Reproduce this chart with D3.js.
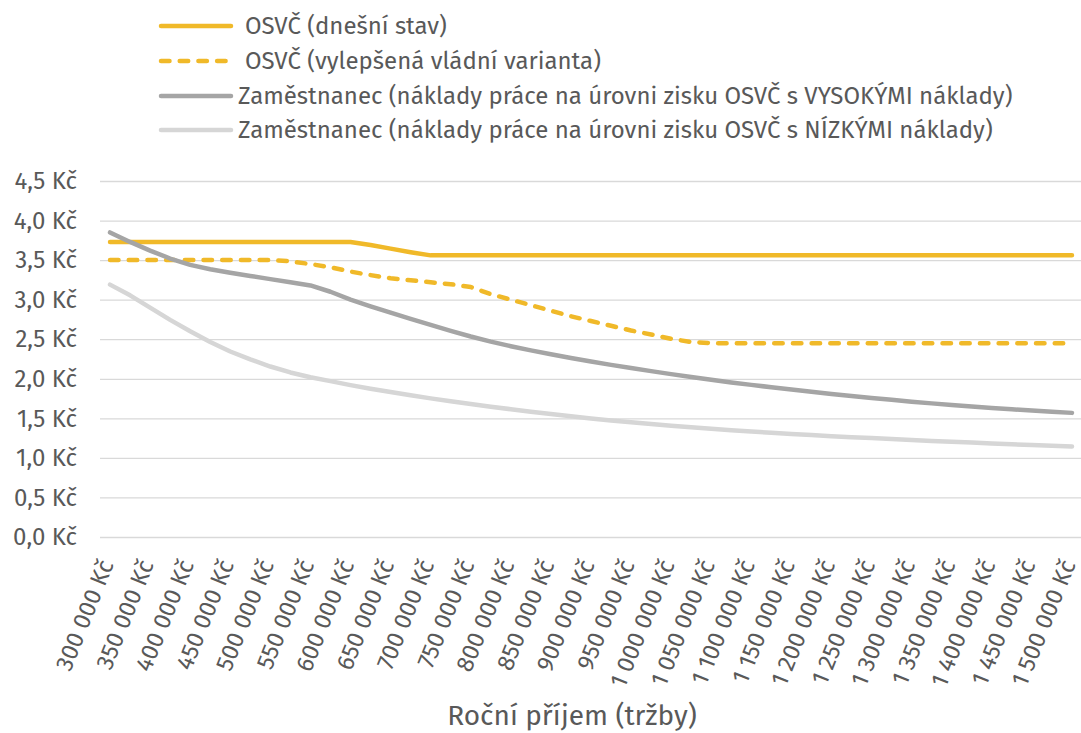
<!DOCTYPE html>
<html>
<head>
<meta charset="utf-8">
<script src="https://cdn.jsdelivr.net/npm/d3@7"></script>
<style>
  body { margin: 0; background: #fff; }
  text { font-family: "Fira Sans", "Open Sans", sans-serif; fill: #595959; }
</style>
</head>
<body>
<div id="chart"></div>
<script>
// annual income categories (Kč), one point every 25 000
var categories = [300000, 325000, 350000, 375000, 400000, 425000, 450000, 475000, 500000, 525000,
  550000, 575000, 600000, 625000, 650000, 675000, 700000, 725000, 750000, 775000,
  800000, 825000, 850000, 875000, 900000, 925000, 950000, 975000, 1000000, 1025000,
  1050000, 1075000, 1100000, 1125000, 1150000, 1175000, 1200000, 1225000, 1250000, 1275000,
  1300000, 1325000, 1350000, 1375000, 1400000, 1425000, 1450000, 1475000, 1500000];

// only every other category gets a label
var tickLabels = [300000, 350000, 400000, 450000, 500000, 550000, 600000, 650000, 700000,
  750000, 800000, 850000, 900000, 950000, 1000000, 1050000, 1100000, 1150000, 1200000,
  1250000, 1300000, 1350000, 1400000, 1450000, 1500000];

var yTicks = [0, 0.5, 1, 1.5, 2, 2.5, 3, 3.5, 4, 4.5];

var osvcNow = [3.73, 3.73, 3.73, 3.73, 3.73, 3.73, 3.73, 3.73, 3.73, 3.73, 3.73, 3.73, 3.73,
  3.69, 3.645, 3.60, 3.56, 3.56, 3.56, 3.56, 3.56, 3.56, 3.56, 3.56, 3.56, 3.56, 3.56, 3.56,
  3.56, 3.56, 3.56, 3.56, 3.56, 3.56, 3.56, 3.56, 3.56, 3.56, 3.56, 3.56, 3.56, 3.56, 3.56,
  3.56, 3.56, 3.56, 3.56, 3.56, 3.56];

var osvcGov = [3.50, 3.50, 3.50, 3.50, 3.50, 3.50, 3.50, 3.50, 3.50,
  3.485, 3.45, 3.41, 3.355, 3.31, 3.27, 3.245, 3.22, 3.195, 3.16, 3.07, 3.00, 2.93, 2.86,
  2.79, 2.73, 2.67, 2.61, 2.56, 2.505, 2.465,
  2.45, 2.45, 2.45, 2.45, 2.45, 2.45, 2.45, 2.45, 2.45, 2.45, 2.45, 2.45, 2.45, 2.45, 2.45,
  2.45, 2.45, 2.45, 2.45];

var empHigh = [3.85, 3.73, 3.62, 3.52, 3.44, 3.385, 3.34, 3.30, 3.26, 3.22, 3.18, 3.10, 3.00,
  2.915, 2.835, 2.757, 2.681, 2.606, 2.534, 2.47, 2.412, 2.359, 2.309, 2.262, 2.218, 2.176,
  2.136, 2.097, 2.059, 2.022, 1.987, 1.954, 1.923, 1.893, 1.864, 1.836, 1.809, 1.783, 1.758,
  1.734, 1.711, 1.689, 1.668, 1.649, 1.631, 1.614, 1.598, 1.583, 1.569];

var empLow = [3.19, 3.055, 2.90, 2.745, 2.60, 2.465, 2.345, 2.245, 2.155, 2.08, 2.02, 1.97,
  1.92, 1.875, 1.832, 1.791, 1.752, 1.715, 1.68, 1.647, 1.615, 1.584, 1.554, 1.525, 1.498,
  1.473, 1.45, 1.428, 1.407, 1.387, 1.368, 1.35, 1.333, 1.317, 1.302, 1.288, 1.275, 1.262,
  1.25, 1.238, 1.226, 1.215, 1.204, 1.193, 1.182, 1.172, 1.162, 1.153, 1.145];

var seriesNames = [
  "OSVČ (dnešní stav)",
  "OSVČ (vylepšená vládní varianta)",
  "Zaměstnanec (náklady práce na úrovni zisku OSVČ s VYSOKÝMI náklady)",
  "Zaměstnanec (náklady práce na úrovni zisku OSVČ s NÍZKÝMI náklady)"
];

var xTitle = "Roční příjem (tržby)";

var series = [
  { name: seriesNames[0], values: osvcNow, color: "#f0b929", dash: null },
  { name: seriesNames[1], values: osvcGov, color: "#f0b929", dash: "8.5,10.2" },
  { name: seriesNames[2], values: empHigh, color: "#a5a5a5", dash: null },
  { name: seriesNames[3], values: empLow, color: "#d6d6d6", dash: null }
];

var W = 1081, H = 733;
var m = { top: 181, right: -1, bottom: 196, left: 100 };

var czk = d3.formatLocale({ decimal: ",", thousands: " ", grouping: [3], currency: ["", " Kč"] });
var fmtX = czk.format("$,.0f");
var fmtY = czk.format("$,.1f");

var svg = d3.select("#chart").append("svg")
  .attr("width", W)
  .attr("height", H);

var x = d3.scaleBand().domain(categories).range([m.left, W - m.right]).padding(0);
var y = d3.scaleLinear().domain([0, 4.5]).range([H - m.bottom, m.top]);
var cx = function(d) { return x(d) + x.bandwidth() / 2; };

// gridlines + y labels
var yAxis = d3.axisLeft(y).tickValues(yTicks).tickFormat(fmtY)
  .tickSize(-(W - m.right - m.left)).tickPadding(23);
var gy = svg.append("g")
  .attr("transform", "translate(" + m.left + ",0)")
  .call(yAxis);
gy.select(".domain").remove();
gy.selectAll("line").attr("stroke", "#d9d9d9").attr("stroke-width", 1.3);
gy.selectAll("text").style("font-size", "24px").attr("fill", "#595959");

// x labels, rotated
var xAxis = d3.axisBottom(x).tickValues(tickLabels).tickFormat(fmtX).tickSize(0);
var gx = svg.append("g")
  .attr("transform", "translate(0," + (H - m.bottom) + ")")
  .call(xAxis);
gx.select(".domain").remove();
gx.selectAll("text")
  .style("font-size", "24px")
  .attr("fill", "#595959")
  .attr("text-anchor", "end")
  .attr("x", 0)
  .attr("y", 0)
  .attr("dy", 0)
  .attr("transform", "translate(4,27) rotate(-68)");

// lines
var line = d3.line()
  .x(function(d) { return cx(d[0]); })
  .y(function(d) { return y(d[1]); });

series.forEach(function(s) {
  var pts = categories.map(function(c, i) { return [c, s.values[i]]; });
  svg.append("path")
    .attr("d", line(pts))
    .attr("fill", "none")
    .attr("stroke", s.color)
    .attr("stroke-width", 4.5)
    .attr("stroke-linejoin", "round")
    .attr("stroke-linecap", "round")
    .attr("stroke-dasharray", s.dash);
});

// legend
var legRows = [26, 61, 96, 130];
var legTextX = [245, 245, 238, 238];
series.forEach(function(s, i) {
  svg.append("line")
    .attr("x1", 161).attr("x2", 231)
    .attr("y1", legRows[i]).attr("y2", legRows[i])
    .attr("stroke", s.color)
    .attr("stroke-width", 4.5)
    .attr("stroke-linecap", "round")
    .attr("stroke-dasharray", s.dash);
  svg.append("text")
    .attr("x", legTextX[i])
    .attr("y", legRows[i])
    .attr("dy", "0.35em")
    .style("font-size", "24px")
    .text(s.name);
});

// axis title
svg.append("text")
  .attr("x", 572)
  .attr("y", 725)
  .attr("text-anchor", "middle")
  .style("font-size", "28px")
  .text(xTitle);
</script>
</body>
</html>
